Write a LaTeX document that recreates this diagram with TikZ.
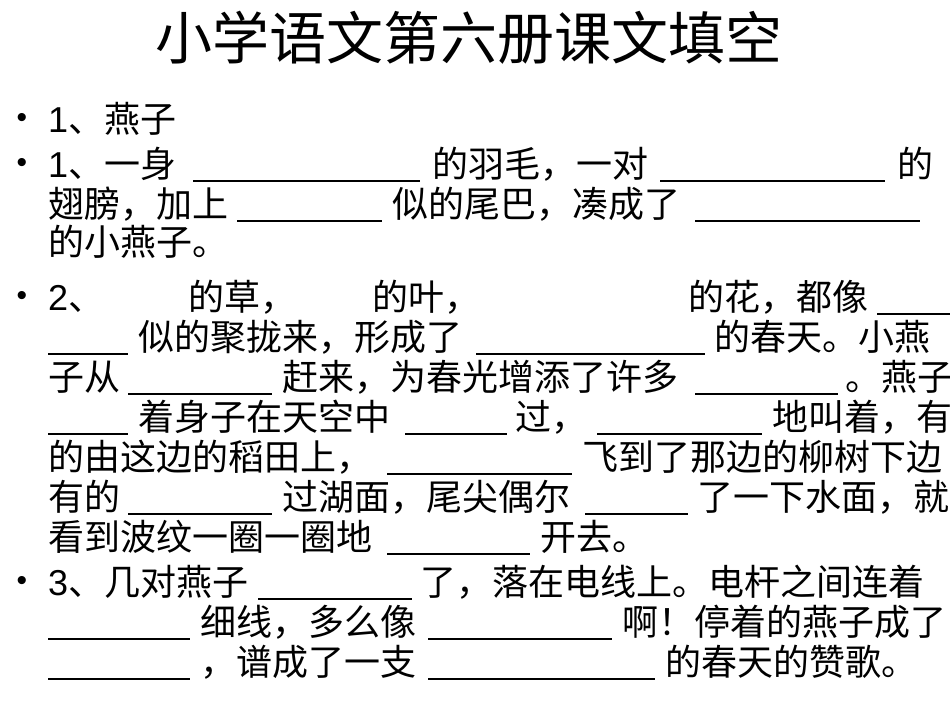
\documentclass[tikz,border=0pt]{standalone}
\usepackage{fontspec}
\setmainfont{Noto Sans CJK SC}
\newfontfamily\latin{Liberation Sans}
\tikzset{t/.style={anchor=base west,inner sep=0pt,font=\fontsize{36}{36}\selectfont},
 bl/.style={line width=1.4pt}}
\newcommand{\T}[3]{\node[t] at (#1,#2+12) {#3};}
\newcommand{\B}[3]{\draw[bl] (#1,#3+16) -- (#2,#3+16);}
\begin{document}
\begin{tikzpicture}[x=1pt,y=-1pt]
\useasboundingbox (0,0) rectangle (950,713);
\fill[white] (0,0) rectangle (950,713);
\node[inner sep=0pt,font=\fontsize{57}{57}\selectfont] (title) at (469,38) {小学语文第六册课文填空};
\foreach \y in {120,165,298,583} \node[anchor=center,font=\fontsize{30}{30}\selectfont\latin] at (22,\y) {•};
\T{48}{120}{{\latin 1}、燕子}
\T{48}{165}{{\latin 1}、一身}\B{193}{420}{165}\T{432}{165}{的羽毛，一对}\B{660}{885}{165}\T{897}{165}{的}
\T{48}{205}{翅膀，加上}\B{237}{382}{205}\T{392}{205}{似的尾巴，凑成了}\B{695}{920}{205}
\T{48}{243}{的小燕子。}
\T{48}{298}{{\latin 2}、}\T{188}{298}{的草，}\T{372}{298}{的叶，}\T{688}{298}{的花，都像}\B{877}{950}{298}
\B{48}{128}{338}\T{138}{338}{似的聚拢来，形成了}\B{476}{705}{338}\T{714}{338}{的春天。小燕}
\T{48}{378}{子从}\B{128}{272}{378}\T{282}{378}{赶来，为春光增添了许多}\B{695}{838}{378}\T{845}{378}{。燕子}
\B{48}{128}{418}\T{138}{418}{着身子在天空中}\B{405}{507}{418}\T{515}{418}{过，}\B{597}{762}{418}\T{772}{418}{地叫着，有}
\T{48}{458}{的由这边的稻田上，}\B{387}{572}{458}\T{582}{458}{飞到了那边的柳树下边}
\T{48}{498}{有的}\B{128}{272}{498}\T{282}{498}{过湖面，尾尖偶尔}\B{585}{688}{498}\T{697}{498}{了一下水面，就}
\T{48}{538}{看到波纹一圈一圈地}\B{387}{530}{538}\T{540}{538}{开去。}
\T{48}{583}{{\latin 3}、几对燕子}\B{258}{412}{583}\T{420}{583}{了，落在电线上。电杆之间连着}
\B{48}{190}{623}\T{200}{623}{细线，多么像}\B{428}{612}{623}\T{622}{623}{啊！停着的燕子成了}
\B{48}{190}{663}\T{200}{663}{，谱成了一支}\B{428}{655}{663}\T{665}{663}{的春天的赞歌。}
\end{tikzpicture}
\end{document}
